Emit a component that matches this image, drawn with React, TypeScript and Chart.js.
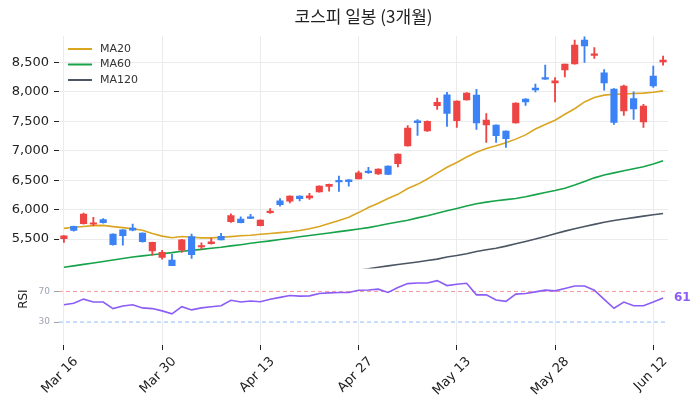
import { useEffect, useRef } from 'react';
import { Chart, registerables } from 'chart.js';

Chart.register(...registerables);

const dates = [
  'Mar 16', 'Mar 17', 'Mar 18', 'Mar 19', 'Mar 20', 'Mar 23', 'Mar 24', 'Mar 25', 'Mar 26', 'Mar 27',
  'Mar 30', 'Mar 31', 'Apr 1', 'Apr 2', 'Apr 3', 'Apr 6', 'Apr 7', 'Apr 8', 'Apr 9', 'Apr 10',
  'Apr 13', 'Apr 14', 'Apr 15', 'Apr 16', 'Apr 17', 'Apr 20', 'Apr 21', 'Apr 22', 'Apr 23', 'Apr 24',
  'Apr 27', 'Apr 28', 'Apr 29', 'Apr 30', 'May 4', 'May 6', 'May 7', 'May 8', 'May 11', 'May 12',
  'May 13', 'May 14', 'May 15', 'May 18', 'May 19', 'May 20', 'May 21', 'May 22', 'May 26', 'May 27',
  'May 28', 'May 29', 'Jun 1', 'Jun 2', 'Jun 4', 'Jun 5', 'Jun 8', 'Jun 9', 'Jun 10', 'Jun 11',
  'Jun 12', 'Jun 15',
];

const opens = [
  5505, 5716, 5760, 5752, 5833, 5585, 5658, 5687, 5602, 5301,
  5189, 5144, 5313, 5541, 5366, 5420, 5545, 5795, 5840, 5880,
  5726, 5950, 6150, 6145, 6230, 6200, 6303, 6395, 6497, 6507,
  6524, 6655, 6609, 6740, 6779, 7084, 7508, 7339, 7765, 7950,
  7510, 7865, 7945, 7440, 7435, 7334, 7475, 7877, 8064, 8233,
  8155, 8374, 8476, 8879, 8620, 8323, 8047, 7678, 7889, 7492,
  8267, 8510,
];
const highs = [
  5560, 5720, 5941, 5868, 5848, 5590, 5660, 5755, 5605, 5450,
  5308, 5240, 5495, 5585, 5437, 5512, 5597, 5930, 5876, 5920,
  5826, 6020, 6190, 6235, 6235, 6276, 6405, 6435, 6570, 6512,
  6655, 6717, 6695, 6745, 6950, 7430, 7532, 7510, 7894, 7991,
  7850, 7990, 8042, 7634, 7440, 7340, 7815, 7885, 8132, 8454,
  8245, 8475, 8879, 8935, 8755, 8381, 8055, 8115, 8001, 7790,
  8437, 8607,
];
const lows = [
  5445, 5636, 5755, 5726, 5772, 5395, 5398, 5640, 5448, 5228,
  5160, 5047, 5274, 5172, 5330, 5415, 5485, 5785, 5775, 5846,
  5722, 5936, 6060, 6116, 6150, 6174, 6298, 6315, 6310, 6400,
  6520, 6615, 6600, 6595, 6728, 7080, 7261, 7330, 7702, 7413,
  7396, 7860, 7362, 7142, 7142, 7057, 7470, 7770, 8001, 8211,
  7831, 8256, 8470, 8500, 8568, 8030, 7447, 7600, 7532, 7396,
  8075, 8454,
];
const closes = [
  5556, 5648, 5924, 5770, 5778, 5405, 5556, 5650, 5456, 5444,
  5274, 5050, 5488, 5234, 5386, 5454, 5487, 5900, 5779, 5850,
  5822, 5975, 6085, 6230, 6185, 6235, 6400, 6430, 6470, 6475,
  6624, 6628, 6689, 6600, 6943, 7385, 7478, 7500, 7825, 7635,
  7843, 7980, 7475, 7520, 7255, 7205, 7810, 7832, 8032, 8218,
  8188, 8471, 8794, 8782, 8646, 8155, 7481, 8098, 7712, 7758,
  8103, 8539,
];

const ma20 = [
  5682, 5700, 5715, 5728, 5732, 5712, 5695, 5675, 5650, 5595,
  5550, 5522, 5543, 5530, 5520, 5520, 5530, 5542, 5556, 5565,
  5582, 5595, 5610, 5625, 5645, 5675, 5715, 5765, 5815, 5870,
  5950, 6035, 6110, 6190, 6260, 6360, 6430, 6520, 6620, 6720,
  6800, 6895, 6975, 7040, 7085, 7135, 7198, 7270, 7370, 7445,
  7520, 7620, 7715, 7830, 7905, 7945, 7960, 7965, 7972, 7980,
  7995, 8018,
];
const ma60 = [
  5022, 5045, 5070, 5095, 5120, 5145, 5170, 5195, 5215, 5235,
  5252, 5270, 5292, 5308, 5325, 5345, 5362, 5385, 5405, 5428,
  5450, 5470, 5492, 5515, 5540, 5562, 5582, 5604, 5626, 5648,
  5670, 5695, 5725, 5760, 5790, 5820, 5860, 5895, 5940, 5980,
  6020, 6062, 6100, 6128, 6150, 6170, 6190, 6220, 6255, 6290,
  6325, 6365, 6420, 6480, 6540, 6590, 6625, 6660, 6695, 6730,
  6775, 6830,
];
const ma120 = [
  null, null, null, null, null, null, null, null, null, null,
  null, null, null, null, null, null, null, null, null, null,
  null, null, null, null, null, null, null, null, null, null,
  4972, 4995, 5022, 5045, 5068, 5090, 5112, 5135, 5160, 5195,
  5220, 5250, 5290, 5318, 5345, 5380, 5420, 5460, 5500, 5545,
  5590, 5635, 5675, 5715, 5750, 5785, 5815, 5840, 5865, 5890,
  5912, 5936,
];
const rsi = [
  52.7, 54.5, 60.0, 56.2, 56.2, 47.6, 51.0, 52.7, 48.5, 47.6,
  44.6, 40.7, 50.1, 45.9, 48.5, 50.1, 51.4, 58.4, 56.2, 57.5,
  56.6, 59.7, 62.3, 64.8, 63.9, 64.2, 67.4, 68.2, 68.6, 68.6,
  71.6, 72.0, 73.0, 68.7, 75.2, 80.3, 81.1, 81.1, 84.2, 77.7,
  79.4, 80.7, 65.6, 65.6, 58.8, 57.1, 66.5, 67.4, 69.5, 71.7,
  70.8, 73.9, 77.2, 77.2, 71.7, 59.7, 48.0, 56.2, 51.4, 51.4,
  56.2, 61.4,
];

const priceTicks = [5500, 6000, 6500, 7000, 7500, 8000, 8500];
const rsiTicks = [30, 70];
const rsiLevels = [70, 30];
const legendNames = ['MA20', 'MA60', 'MA120'];
const labelEvery = 10;

const UP = '#ef4444';
const DOWN = '#3b82f6';

export default function App() {
  const canvasRef = useRef<HTMLCanvasElement | null>(null);

  useEffect(() => {
    document.body.style.margin = '0';
    const canvas = canvasRef.current;
    if (!canvas) return;
    Chart.defaults.font.family = "'DejaVu Sans', sans-serif";

    const candleColors = closes.map((c, i) => (c >= opens[i] ? UP : DOWN));

    const overlay = {
      id: 'overlay',
      beforeDatasetsDraw(chart: any) {
        const { ctx, chartArea } = chart;
        const rs = chart.scales.rsi;
        ctx.save();
        ctx.lineWidth = 1;
        ctx.setLineDash([4, 3]);
        rsiLevels.forEach((lv, k) => {
          const y = rs.getPixelForValue(lv);
          ctx.strokeStyle = k === 0 ? 'rgba(239,68,68,0.55)' : 'rgba(59,130,246,0.55)';
          ctx.beginPath();
          ctx.moveTo(chartArea.left, y);
          ctx.lineTo(chartArea.right, y);
          ctx.stroke();
        });
        ctx.restore();
      },
      afterDatasetsDraw(chart: any) {
        const { ctx, chartArea } = chart;
        ctx.save();
        const ds = chart.data.datasets.filter((d: any) => legendNames.includes(d.label));
        ds.forEach((d: any, k: number) => {
          const y = chartArea.top + 13 + k * 15.5;
          const x = chartArea.left + 9;
          ctx.strokeStyle = d.borderColor;
          ctx.lineWidth = 2;
          ctx.beginPath();
          ctx.moveTo(x, y);
          ctx.lineTo(x + 24, y);
          ctx.stroke();
          ctx.fillStyle = '#333';
          ctx.font = "11px 'DejaVu Sans', sans-serif";
          ctx.textAlign = 'left';
          ctx.textBaseline = 'middle';
          ctx.fillText(d.label, x + 32, y);
        });
        const idx = chart.data.datasets.findIndex((d: any) => d.label === 'RSI');
        const meta = chart.getDatasetMeta(idx);
        const last = meta.data[meta.data.length - 1];
        ctx.fillStyle = '#8b5cf6';
        ctx.font = "bold 12px 'DejaVu Sans', sans-serif";
        ctx.textAlign = 'left';
        ctx.textBaseline = 'middle';
        ctx.fillText(String(Math.round(rsi[rsi.length - 1])), chartArea.right + 6, last.y);
        const rs = chart.scales.rsi;
        ctx.translate(24, rs.getPixelForValue(60));
        ctx.rotate(-Math.PI / 2);
        ctx.fillStyle = '#222';
        ctx.font = "12px 'DejaVu Sans', sans-serif";
        ctx.textAlign = 'center';
        ctx.textBaseline = 'middle';
        ctx.fillText('RSI', 0, 0);
        ctx.restore();
      },
    };

    const chart = new Chart(canvas, {
      type: 'bar',
      data: {
        labels: dates,
        datasets: [
          {
            type: 'bar',
            label: 'body',
            data: opens.map((o, i) => [o, closes[i]]),
            backgroundColor: candleColors,
            borderWidth: 0,
            barThickness: 6.5,
            minBarLength: 1.5,
            grouped: false,
            yAxisID: 'y',
            order: 0,
          } as any,
          {
            type: 'bar',
            label: 'wick',
            data: lows.map((l, i) => [l, highs[i]]),
            backgroundColor: candleColors,
            borderWidth: 0,
            barThickness: 1.2,
            grouped: false,
            yAxisID: 'y',
            order: 1,
          } as any,
          {
            type: 'line',
            label: 'MA20',
            data: ma20,
            borderColor: '#daa520',
            borderWidth: 1.6,
            pointRadius: 0,
            tension: 0,
            yAxisID: 'y',
            order: 2,
          } as any,
          {
            type: 'line',
            label: 'MA60',
            data: ma60,
            borderColor: '#16a34a',
            borderWidth: 1.6,
            pointRadius: 0,
            tension: 0,
            yAxisID: 'y',
            order: 2,
          } as any,
          {
            type: 'line',
            label: 'MA120',
            data: ma120,
            borderColor: '#4b5563',
            borderWidth: 1.6,
            pointRadius: 0,
            tension: 0,
            yAxisID: 'y',
            order: 2,
          } as any,
          {
            type: 'line',
            label: 'RSI',
            data: rsi,
            borderColor: '#8b5cf6',
            borderWidth: 1.6,
            pointRadius: 0,
            tension: 0,
            yAxisID: 'rsi',
            order: 2,
          } as any,
        ],
      },
      options: {
        responsive: false,
        animation: false,
        devicePixelRatio: 1,
        events: [],
        layout: { padding: { left: 0, right: 32, top: 0, bottom: 0 } },
        plugins: {
          legend: { display: false },
          tooltip: { enabled: false },
          title: {
            display: true,
            text: '코스피 일봉 (3개월)',
            fullSize: false,
            color: '#222',
            font: { size: 17, family: "'Noto Sans CJK KR', sans-serif", weight: 'normal', lineHeight: 1.2 },
            padding: { top: 6, bottom: 9.6 },
          },
        },
        scales: {
          x: {
            type: 'category',
            offset: true,
            border: { display: false },
            grid: { offset: false, color: '#ebebeb', tickColor: '#222', tickLength: 5 },
            ticks: {
              autoSkip: false,
              maxRotation: 45,
              minRotation: 45,
              labelOffset: 12,
              padding: 4,
              color: '#222',
              font: { size: 13 },
            },
            afterBuildTicks: (s: any) => {
              s.ticks = s.ticks.filter((t: any) => t.value % labelEvery === 0);
            },
            afterFit: (s: any) => {
              s.height = 66;
            },
          } as any,
          rsi: {
            type: 'linear',
            position: 'left',
            stack: 'panes',
            stackWeight: 1,
            min: 0,
            max: 100,
            border: { display: false },
            grid: { drawOnChartArea: false, tickColor: '#9ca3af', tickLength: 5 },
            ticks: { color: '#9ca3af', font: { size: 9 }, padding: 4 },
            afterBuildTicks: (s: any) => {
              s.ticks = rsiTicks.map((v) => ({ value: v }));
            },
            afterFit: (s: any) => {
              s.width = 59;
            },
          } as any,
          y: {
            type: 'linear',
            position: 'left',
            stack: 'panes',
            stackWeight: 3.04,
            min: 5000,
            max: 8950,
            border: { display: false },
            grid: { color: '#ebebeb', tickColor: '#222', tickLength: 5 },
            ticks: {
              color: '#222',
              font: { size: 13 },
              padding: 5,
              callback: (v: any) => Number(v).toLocaleString('en-US'),
            },
            afterBuildTicks: (s: any) => {
              s.ticks = priceTicks.map((v) => ({ value: v }));
            },
            afterFit: (s: any) => {
              s.width = 59;
            },
          } as any,
        },
      },
      plugins: [overlay],
    });

    return () => chart.destroy();
  }, []);

  return <canvas ref={canvasRef} width={700} height={411} style={{ display: 'block' }} />;
}
